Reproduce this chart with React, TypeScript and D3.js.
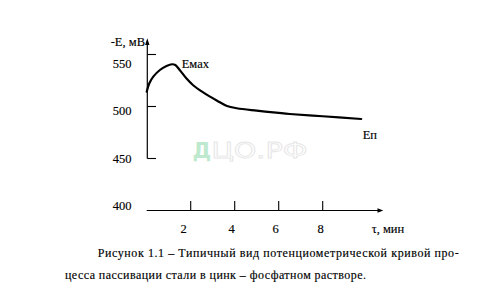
import React from "react";
import * as d3 from "d3";

const timeMin = [0, 0.12, 0.3, 0.6, 0.9, 1.15, 1.3, 1.5, 1.8, 2.1, 2.55, 3.2, 3.65, 4.1, 5.0, 6.0, 6.5, 8.0, 9.75];
const potential = [514.2, 522.3, 528.7, 535.1, 538.9, 540.6, 539.9, 535.1, 527.1, 520.7, 513.8, 505.6, 500.5, 498.3, 496.0, 493.8, 492.8, 490.6, 488.0];
const xTicks = [2, 4, 6, 8];
const yTicks = [550, 500, 450, 400];
const yAxisLabel = "-E, мВ";
const xAxisLabel = "τ, мин";
const peakLabel = "Емах";
const endLabel = "Еп";
const captionLine1 = "Рисунок 1.1 – Типичный вид потенциометрической кривой про-";
const captionLine2 = "цесса пассивации стали в цинк – фосфатном растворе.";

const W = 504;
const H = 306;
const serif = "Liberation Serif, Times New Roman, serif";

export default function App() {
  const x = d3.scaleLinear().domain([0, 8]).range([146.7, 322.7]);
  const y = d3.scaleLinear().domain([400, 550]).range([210.5, 54.5]);
  const data = timeMin.map((t, i) => [t, potential[i]] as [number, number]);
  const line = d3
    .line<[number, number]>()
    .x((d) => x(d[0]))
    .y((d) => y(d[1]))
    .curve(d3.curveCatmullRom.alpha(0.5));

  const x0 = x(0);
  const yAxisX = 147.3;
  const axisY = 210.5;
  const labelOffsets: Record<number, number> = { 2: -7, 4: -3, 6: -3, 8: -2 };
  const yLabelBase: Record<number, number> = { 550: 68.3, 500: 115, 450: 162.7, 400: 210 };
  const txt = { fontFamily: serif, fill: "#000", stroke: "#000", strokeWidth: 0.15 };

  return (
    <svg width={W} height={H} style={{ position: "absolute", left: 0, top: 0, background: "#fff" }}>
      <rect x={0} y={0} width={W} height={H} fill="#fff" />
      <g fontFamily="DejaVu Sans">
        <text x={192.5} y={158} fontSize={21} fontWeight="bold" fill="#bfe9cf">Д</text>
        <text x={211.5} y={158} fontSize={21} fill="#ffffff" stroke="#e6e6e6" strokeWidth={0.8} textLength={96} lengthAdjust="spacingAndGlyphs">ЦО.РФ</text>
      </g>

      <line x1={yAxisX} x2={yAxisX} y1={y(450)} y2={44} stroke="#000" strokeWidth={1.2} />
      <path d={`M${yAxisX},38.3 L${yAxisX - 2.2},45 L${yAxisX + 2.2},45 Z`} fill="#000" />
      {yTicks.filter((v) => v !== 400).map((v) => (
        <line key={v} x1={yAxisX} x2={156} y1={y(v)} y2={y(v)} stroke="#000" strokeWidth={1.1} />
      ))}
      {yTicks.map((v) => (
        <text key={"l" + v} x={131.5} y={yLabelBase[v]} textAnchor="end" fontSize={12.5} {...txt}>
          {v}
        </text>
      ))}
      <text x={110.7} y={46} fontSize={12.5} {...txt}>{yAxisLabel}</text>

      <line x1={x0} x2={378} y1={axisY} y2={axisY} stroke="#000" strokeWidth={1.2} />
      <path d={`M383.3,${axisY} L377.5,${axisY - 2.3} L377.5,${axisY + 2.3} Z`} fill="#000" />
      {xTicks.map((t) => (
        <line key={t} x1={x(t)} x2={x(t)} y1={201} y2={axisY} stroke="#000" strokeWidth={1.1} />
      ))}
      {xTicks.map((t) => (
        <text key={"xl" + t} x={x(t) + labelOffsets[t]} y={233.3} textAnchor="middle" fontSize={12.5} {...txt}>
          {t}
        </text>
      ))}
      <text x={371.7} y={233.3} fontSize={12.5} {...txt}>{xAxisLabel}</text>

      <path d={line(data) || ""} fill="none" stroke="#000" strokeWidth={2.2} strokeLinejoin="round" strokeLinecap="round" />
      <text x={181.7} y={68.3} fontSize={12.5} {...txt}>{peakLabel}</text>
      <text x={362.7} y={139.3} fontSize={12.5} {...txt}>{endLabel}</text>

      <text x={97.7} y={256.5} fontSize={12} textLength={361} lengthAdjust="spacing" {...txt}>
        {captionLine1}
      </text>
      <text x={65} y={278.5} fontSize={12} textLength={301} lengthAdjust="spacing" {...txt}>
        {captionLine2}
      </text>
    </svg>
  );
}
